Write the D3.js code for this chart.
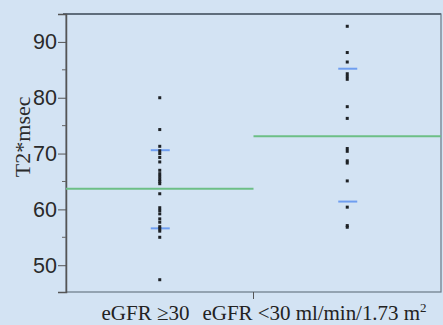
<!DOCTYPE html>
<html>
<head>
<meta charset="utf-8">
<script src="https://cdn.jsdelivr.net/npm/d3@7"></script>
<style>
  html, body { margin: 0; padding: 0; background: #d3e3f3; }
  svg { display: block; }
</style>
</head>
<body>
<svg id="chart"></svg>
<script>
const groups = ['ge30', 'lt30'];
const group1 = [80, 74.3, 71.3, 70.5, 70, 69.3, 68.5, 67, 66.4, 65.9, 65.4, 65, 64.6,
  62.8, 60.3, 59.8, 59.2, 58.3, 57.7, 56.9, 56.5, 56.1, 55, 47.4];
const group2 = [92.8, 88.1, 86.4, 84.3, 83.8, 83.3, 78.4, 76.3, 70.9, 70.4, 68.7, 68.3,
  65.1, 60.4, 57.1, 56.8];
const means = [63.7, 73.1];
const upperLines = [70.6, 85.2];
const lowerLines = [56.6, 61.4];
const majorTicks = [50, 60, 70, 80, 90];
const minorTicks = [55, 65, 75, 85];

const width = 443, height = 325;
const margin = {top: 14, right: 2, bottom: 33, left: 66};
const w = width - margin.left - margin.right;
const h = height - margin.top - margin.bottom;

const svg = d3.select('#chart')
    .attr('width', width)
    .attr('height', height);

const xScale = d3.scaleBand()
    .domain(groups)
    .range([0, w]);

const yScale = d3.scaleLinear()
    .domain([45.2, 95])
    .range([h, 0]);

const g = svg.append('g')
    .attr('transform', `translate(${margin.left},${margin.top})`);

// frame
g.append('rect')
    .attr('width', w)
    .attr('height', h)
    .attr('fill', 'none')
    .attr('stroke', '#6a7886')
    .attr('stroke-width', 1.2);
g.append('line')
    .attr('x1', -3).attr('x2', w)
    .attr('y1', 0).attr('y2', 0)
    .attr('stroke', '#5f6d7b')
    .attr('stroke-width', 2);

// y axis
const yAxis = d3.axisLeft(yScale)
    .tickValues(majorTicks)
    .tickSize(8)
    .tickPadding(1);
const ya = g.append('g').call(yAxis);
ya.select('.domain').attr('stroke', '#555').attr('stroke-width', 1.5);
ya.selectAll('.tick line').attr('stroke', '#555');
ya.selectAll('.tick text')
    .attr('font-family', 'Liberation Sans, Arial, sans-serif')
    .attr('font-size', 21.5)
    .attr('fill', '#2a2a2a');

g.append('g')
    .selectAll('line')
    .data(minorTicks)
    .join('line')
    .attr('x1', -4).attr('x2', 0)
    .attr('y1', d => yScale(d)).attr('y2', d => yScale(d))
    .attr('stroke', '#666');

// x tick at group boundary
g.append('line')
    .attr('x1', xScale('lt30')).attr('x2', xScale('lt30'))
    .attr('y1', h).attr('y2', h + 7)
    .attr('stroke', '#555');

// y title
svg.append('text')
    .attr('transform', `translate(30,${margin.top + yScale(73)}) rotate(-90)`)
    .attr('text-anchor', 'middle')
    .attr('font-family', 'Liberation Serif, Times New Roman, serif')
    .attr('font-size', 22)
    .attr('fill', '#2a2a2a')
    .text('T2*msec');

// x labels
const xMid = margin.left + xScale('lt30');
svg.append('text')
    .attr('x', xMid - 64)
    .attr('y', 320)
    .attr('text-anchor', 'end')
    .attr('font-family', 'Liberation Serif, Times New Roman, serif')
    .attr('font-size', 21)
    .attr('fill', '#222')
    .text('eGFR \u226530');
const lab2 = svg.append('text')
    .attr('x', xMid - 51)
    .attr('y', 320)
    .attr('font-family', 'Liberation Serif, Times New Roman, serif')
    .attr('font-size', 21)
    .attr('fill', '#222')
    .attr('textLength', 224);
lab2.append('tspan').text('eGFR <30 ml/min/1.73 m');
lab2.append('tspan').attr('font-size', 13).attr('dy', -8).text('2');

// mean lines across each band
g.selectAll('.mean')
    .data(groups)
    .join('line')
    .attr('class', 'mean')
    .attr('x1', d => xScale(d))
    .attr('x2', d => xScale(d) + xScale.bandwidth())
    .attr('y1', (d, i) => yScale(means[i]))
    .attr('y2', (d, i) => yScale(means[i]))
    .attr('stroke', '#6cbf86')
    .attr('stroke-width', 2);

// blue short lines
const cx = d => xScale(d) + xScale.bandwidth() / 2;
[upperLines, lowerLines].forEach(vals => {
  g.append('g')
      .selectAll('line')
      .data(groups)
      .join('line')
      .attr('x1', d => cx(d) - 9)
      .attr('x2', d => cx(d) + 10)
      .attr('y1', (d, i) => yScale(vals[i]))
      .attr('y2', (d, i) => yScale(vals[i]))
      .attr('stroke', '#6f9ef0')
      .attr('stroke-width', 2);
});

// points
[group1, group2].forEach((vals, i) => {
  g.append('g')
      .selectAll('rect')
      .data(vals)
      .join('rect')
      .attr('x', cx(groups[i]) - 1.5)
      .attr('y', d => yScale(d) - 1.5)
      .attr('width', 3)
      .attr('height', 3)
      .attr('fill', '#1e2226');
});
</script>
</body>
</html>
